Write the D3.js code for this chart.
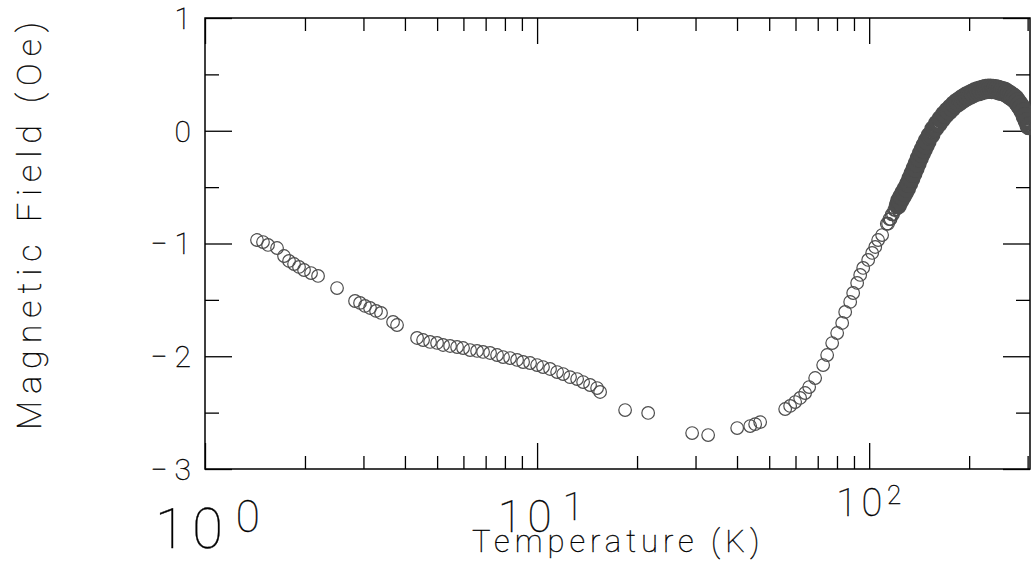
<!DOCTYPE html>
<html>
<head>
<meta charset="utf-8">
<script src="https://cdn.jsdelivr.net/npm/d3@7"></script>
<style>
  body { margin: 0; background: #fff; }
  svg { display: block; }
  text { font-family: Roboto, "DejaVu Sans", sans-serif; font-weight: 100; fill: #000; stroke: #000; stroke-width: 0.35; }
</style>
</head>
<body>
<svg id="chart" width="1031" height="565"></svg>
<script>
// Data: temperature (K) and field (Oe)
var lowT = [1.434, 1.495, 1.548, 1.648, 1.730, 1.791, 1.854, 1.919, 1.987, 2.086, 2.190, 2.498,
  2.830, 2.930, 3.033, 3.140, 3.274, 3.389, 3.684, 3.787,
  4.351, 4.536, 4.762, 4.998, 5.211, 5.470, 5.742, 5.986, 6.284, 6.596, 6.876, 7.218, 7.577,
  7.899, 8.292, 8.705, 9.075, 9.526, 10.0, 10.42, 10.94, 11.49, 11.98, 12.57, 13.20, 13.76,
  14.44, 15.16, 15.48];
var lowB = [-0.969, -0.987, -1.013, -1.040, -1.111, -1.155, -1.182, -1.208, -1.235, -1.262, -1.288, -1.395,
  -1.510, -1.527, -1.554, -1.572, -1.598, -1.616, -1.696, -1.723,
  -1.838, -1.856, -1.873, -1.882, -1.900, -1.909, -1.918, -1.927, -1.945, -1.953, -1.962, -1.971, -1.989,
  -2.007, -2.016, -2.033, -2.051, -2.060, -2.078, -2.096, -2.113, -2.140, -2.158, -2.185, -2.202, -2.229,
  -2.255, -2.282, -2.317];

var midT = [18.41, 21.60, 29.30, 32.74, 40.04, 43.82, 45.36, 46.96];
var midB = [-2.477, -2.503, -2.681, -2.699, -2.637, -2.619, -2.602, -2.584];

var riseT = [55.85, 57.81, 59.85, 61.96, 64.15, 65.96, 68.76, 72.68, 74.73, 77.37, 80.10, 82.93,
  84.67, 87.66, 89.50, 92.00, 93.96, 95.92, 99.31, 102.1, 104.3, 106.4, 109.4];
var riseB = [-2.468, -2.441, -2.406, -2.370, -2.326, -2.273, -2.193, -2.078, -1.989, -1.883, -1.794, -1.705,
  -1.607, -1.518, -1.439, -1.350, -1.279, -1.217, -1.146, -1.084, -1.031, -0.969, -0.925];

var peakT = [113, 114, 115, 116, 117, 118, 119, 120, 121, 122, 123, 124, 125, 126, 127, 128, 129, 130,
  131, 132, 133, 134, 135, 136, 137, 138, 139, 140, 141, 142, 143, 144, 145, 146, 147, 148, 149, 150,
  152, 154, 156, 158, 160, 162, 164, 166, 168, 170, 172, 174, 176, 178, 180, 182, 184, 186, 188, 190,
  192, 194, 196, 198, 200, 202, 204, 206, 208, 210, 212, 214, 216, 218, 220, 222, 224, 226, 228, 230,
  232, 234, 236, 238, 240, 242, 244, 246, 248, 250, 252, 254, 256, 258, 260, 262, 264, 266, 268, 270,
  272, 274, 276, 278, 280, 282, 284, 286, 288, 290, 292, 294, 296, 298, 300, 302, 304];
var peakB = [-0.825, -0.824, -0.783, -0.783, -0.742, -0.741, -0.701, -0.702, -0.662, -0.663, -0.623, -0.624,
  -0.585, -0.587, -0.548, -0.550, -0.511, -0.513, -0.471, -0.468, -0.426, -0.423, -0.381, -0.378, -0.336,
  -0.333, -0.291, -0.288, -0.246, -0.243, -0.203, -0.204, -0.165, -0.167, -0.128, -0.129, -0.090, -0.093,
  -0.044, -0.035, 0.014, 0.023, 0.063, 0.064, 0.104, 0.105, 0.145, 0.143, 0.178, 0.172, 0.207, 0.201,
  0.236, 0.229, 0.259, 0.248, 0.278, 0.267, 0.297, 0.286, 0.313, 0.300, 0.326, 0.312, 0.339, 0.325,
  0.352, 0.336, 0.360, 0.343, 0.367, 0.350, 0.374, 0.357, 0.380, 0.361, 0.382, 0.362, 0.382, 0.361,
  0.381, 0.360, 0.379, 0.356, 0.373, 0.350, 0.367, 0.344, 0.361, 0.338, 0.355, 0.330, 0.343, 0.317,
  0.330, 0.303, 0.316, 0.290, 0.303, 0.276, 0.287, 0.254, 0.261, 0.228, 0.235, 0.202, 0.209, 0.172,
  0.170, 0.129, 0.127, 0.086, 0.084, 0.042, 0.041];

var xDecades = [1, 10, 100];
var xMinor = [2, 3, 4, 5, 6, 7, 8, 9, 20, 30, 40, 50, 60, 70, 80, 90, 200, 300];
var xExponents = ["0", "1", "2"];
var yMajor = [-3, -2, -1, 0, 1];
var yMinor = [-2.5, -1.5, -0.5, 0.5];

var xTitle = "Temperature (K)";
var yTitle = "Magnetic Field (Oe)";

// Plot area
var svg = d3.select("#chart");
var plotL = 205, plotR = 1030, plotT = 18, plotB = 469;

var x = d3.scaleLog().domain([1, 305]).range([plotL, plotR]);
var y = d3.scaleLinear().domain([-3, 1]).range([plotB, plotT]);

function zip(ts, bs) { return ts.map(function(t, i) { return {t: t, b: bs[i]}; }); }
var points = [].concat(zip(lowT, lowB), zip(midT, midB), zip(riseT, riseB), zip(peakT, peakB));

// Axes: inward ticks on all four sides
var axes = [
  [d3.axisBottom(x).tickValues(xMinor).tickSize(-13), "translate(0," + plotB + ")"],
  [d3.axisBottom(x).tickValues(xDecades).tickSize(-26), "translate(0," + plotB + ")"],
  [d3.axisTop(x).tickValues(xMinor).tickSize(-13), "translate(0," + plotT + ")"],
  [d3.axisTop(x).tickValues(xDecades).tickSize(-26), "translate(0," + plotT + ")"],
  [d3.axisLeft(y).tickValues(yMinor).tickSize(-14), "translate(" + plotL + ",0)"],
  [d3.axisLeft(y).tickValues(yMajor).tickSize(-27), "translate(" + plotL + ",0)"],
  [d3.axisRight(y).tickValues(yMinor).tickSize(-14), "translate(" + plotR + ",0)"],
  [d3.axisRight(y).tickValues(yMajor).tickSize(-27), "translate(" + plotR + ",0)"]
];
axes.forEach(function(a) {
  var g = svg.append("g").attr("transform", a[1]).call(a[0].tickFormat(""));
  g.select(".domain").remove();
  g.selectAll("line").attr("stroke", "#000").attr("stroke-width", 1.3);
});

svg.append("rect")
  .attr("x", plotL).attr("y", plotT)
  .attr("width", plotR - plotL).attr("height", plotB - plotT)
  .attr("fill", "none").attr("stroke", "#000").attr("stroke-width", 1.5);

// Points; above ~122 K the circles overlap into a solid band
svg.append("g").selectAll("circle")
  .data(points)
  .join("circle")
  .attr("cx", function(d) { return x(d.t); })
  .attr("cy", function(d) { return y(d.b); })
  .attr("r", function(d) { return d.t >= 122 ? 6.8 : 6.3; })
  .attr("fill", "none")
  .attr("stroke", "#4d4d4d")
  .attr("stroke-width", function(d) { return d.t >= 122 ? 4.6 : 1.2; });

// Y tick labels
svg.append("g").selectAll("text")
  .data(yMajor)
  .join("text")
  .attr("x", 191)
  .attr("y", function(d) { return y(d); })
  .attr("dy", "0.36em")
  .attr("text-anchor", "end")
  .attr("font-size", 30)
  .text(function(d) { return d < 0 ? "\u2212 " + Math.abs(d) : String(d); });

// X tick labels (each decade label drawn at its own size, as in the original)
// [base size, exponent size, x offset, exponent gap, exponent raise]
var decSize = [[56, 44, -50, 6, 16], [44, 38, -39, 6, 12], [38, 26, -33, 0, 12]];
xDecades.forEach(function(v, i) {
  var s = decSize[i];
  var base = svg.append("text")
    .attr("x", x(v) + s[2])
    .attr("y", plotB + 79 - i * 16)
    .attr("font-size", s[0])
    .attr("letter-spacing", s[0] * 0.12)
    .text("10");
  var bw = base.node().getComputedTextLength();
  svg.append("text")
    .attr("x", x(v) + s[2] + bw + s[3])
    .attr("y", plotB + 79 - i * 16 - s[4])
    .attr("font-size", s[1])
    .text(xExponents[i]);
});

// Axis titles
svg.append("text")
  .attr("x", 472)
  .attr("y", 552)
  .attr("font-size", 31)
  .attr("letter-spacing", 5)
  .text(xTitle);

svg.append("text")
  .attr("transform", "translate(41,430) rotate(-90)")
  .attr("font-size", 34)
  .attr("letter-spacing", 7)
  .text(yTitle);
</script>
</body>
</html>
